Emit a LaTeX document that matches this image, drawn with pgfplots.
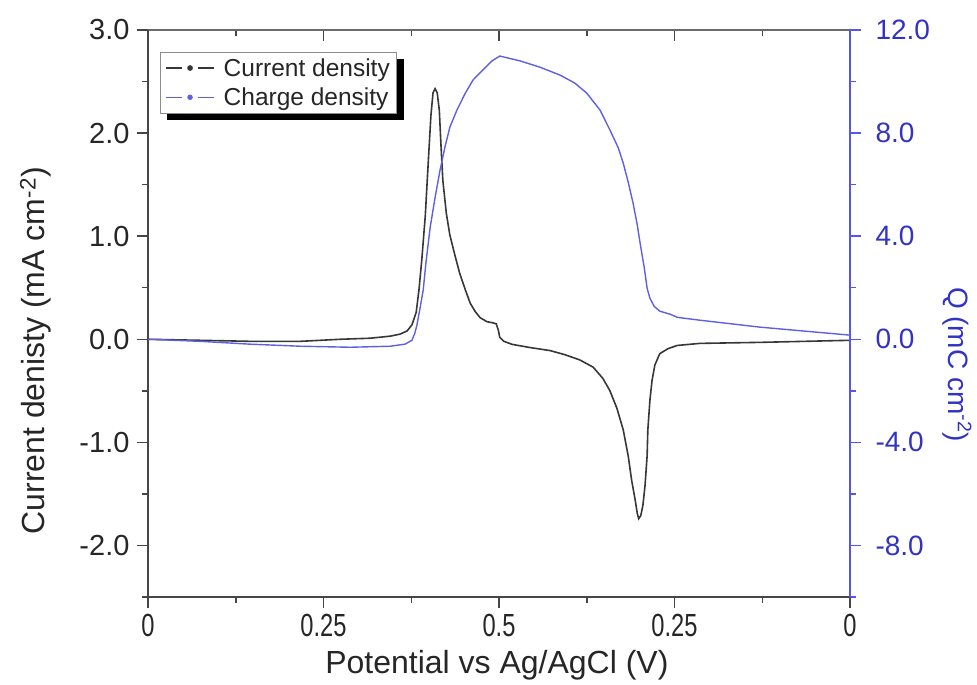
\documentclass[border=0pt]{standalone}
\usepackage{pgfplots}
\pgfplotsset{compat=1.18}
\usepackage{fontspec}
\setmainfont{Liberation Sans}
\pgfdeclarelayer{background}
\pgfsetlayers{background,main}
\definecolor{curblk}{RGB}{55,55,55}
\definecolor{qblue}{RGB}{95,95,225}
\definecolor{axblue}{RGB}{85,85,240}
\definecolor{tickblue}{RGB}{50,50,195}
\definecolor{axgray}{RGB}{70,70,70}

\pgfplotstableread{
u J
0.000 0.00
0.074 -0.01
0.145 -0.02
0.217 -0.02
0.274 0.00
0.316 0.01
0.345 0.03
0.359 0.05
0.369 0.08
0.376 0.14
0.382 0.26
0.386 0.48
0.390 0.77
0.395 1.20
0.399 1.69
0.403 2.17
0.406 2.39
0.409 2.43
0.412 2.39
0.415 2.22
0.417 1.93
0.420 1.54
0.425 1.22
0.430 1.01
0.437 0.82
0.444 0.64
0.452 0.48
0.459 0.35
0.466 0.27
0.473 0.21
0.483 0.17
0.491 0.16
0.496 0.15
0.499 0.09
0.501 0.02
0.507 -0.02
0.519 -0.05
0.544 -0.08
0.573 -0.11
0.594 -0.15
0.615 -0.20
0.634 -0.27
0.648 -0.38
0.658 -0.50
0.668 -0.67
0.677 -0.88
0.684 -1.13
0.689 -1.37
0.694 -1.56
0.697 -1.69
0.699 -1.74
0.702 -1.71
0.705 -1.61
0.708 -1.42
0.711 -1.13
0.712 -0.88
0.715 -0.59
0.718 -0.40
0.722 -0.25
0.729 -0.14
0.741 -0.09
0.754 -0.06
0.786 -0.04
0.872 -0.03
1.000 -0.01
}\currenttable

\pgfplotstableread{
u Q
0.000 0.00
0.074 -0.08
0.145 -0.19
0.217 -0.27
0.288 -0.31
0.345 -0.27
0.366 -0.19
0.376 -0.04
0.380 0.23
0.383 0.54
0.387 1.13
0.392 1.90
0.396 2.99
0.402 4.35
0.409 5.51
0.416 6.56
0.423 7.46
0.430 8.23
0.440 8.89
0.452 9.55
0.463 10.06
0.477 10.45
0.490 10.80
0.501 10.99
0.530 10.80
0.558 10.56
0.587 10.25
0.608 9.94
0.625 9.55
0.644 8.89
0.658 8.12
0.670 7.42
0.677 6.83
0.684 6.10
0.691 5.28
0.697 4.43
0.701 3.73
0.707 2.76
0.711 1.98
0.715 1.59
0.721 1.28
0.729 1.09
0.744 0.97
0.754 0.85
0.786 0.74
0.872 0.47
1.000 0.16
}\chargetable

\begin{document}
\begin{tikzpicture}[x=1pt,y=1pt]
\path[use as bounding box] (0,0) rectangle (977,685);
% top axis with inward ticks
\begin{axis}[
  at={(148pt,88pt)}, anchor=south west,
  scale only axis, width=702pt, height=567pt,
  xmin=0, xmax=1, ymin=-2.5, ymax=3,
  axis x line*=top, axis y line=none,
  tick align=inside,
  xtick={0,0.25,0.5,0.75,1}, xticklabels={},
  minor xtick={0.125,0.375,0.625,0.875},
  major tick length=11pt, minor tick length=6pt,
  axis line style={line width=1.6pt, color=axgray!80},
  tick style={line width=1.5pt, color=axgray},
]
\end{axis}
% main axis
\begin{axis}[
  at={(148pt,88pt)}, anchor=south west,
  scale only axis, width=702pt, height=567pt,
  xmin=0, xmax=1, ymin=-2.5, ymax=3,
  axis x line*=bottom, axis y line*=left,
  tick align=outside,
  xtick={0,0.25,0.5,0.75,1}, xticklabels={0,0.25,0.5,0.25,0},
  minor xtick={0.125,0.375,0.625,0.875},
  ytick={-2,-1,0,1,2,3}, minor ytick={-2.5,-1.5,-0.5,0.5,1.5,2.5},
  major tick length=11pt, minor tick length=6pt,
  axis line style={line width=2.2pt, color=axgray},
  tick style={line width=1.5pt, color=axgray},
  /pgf/number format/assume math mode=true,
  ticklabel style={font=\fontsize{29}{34}\selectfont, text=black!85},
  xticklabel style={yshift=-3pt, xscale=0.74, font=\fontsize{32}{36}\selectfont},
  yticklabel style={/pgf/number format/fixed, /pgf/number format/fixed zerofill, /pgf/number format/precision=1, xshift=-4pt},
  xlabel={Potential vs Ag/AgCl (V)},
  ylabel={Current denisty (mA cm\textsuperscript{-2})},
  every axis x label/.style={at={(axis description cs:0.497,-0.12)}, anchor=center,
    font=\fontsize{32}{36}\selectfont, text=black!85},
  every axis y label/.style={at={(axis description cs:-0.16,0.434)}, rotate=90, anchor=center,
    font=\fontsize{32}{38}\selectfont, text=black!85},
  legend style={name=leg, at={(axis description cs:0,1)}, anchor=north west,
    xshift=12pt, yshift=-22pt, draw=black!45, line width=0.8pt, fill=white,
    font=\fontsize{24.5}{28}\selectfont, inner xsep=5pt, inner ysep=4pt,
    row sep=6pt, column sep=7pt, text=black!85},
  legend cell align=left,
  legend image code/.code={
    \draw[#1, line width=1.3pt] (0pt,0pt) -- (16pt,0pt);
    \draw[#1, line width=1.3pt] (32pt,0pt) -- (48pt,0pt);
    \fill[#1] (24pt,0pt) circle (2pt);
  },
]
\addplot[curblk, line width=1.6pt, mark=none] table[x=u, y=J] {\currenttable};
\addlegendentry{Current density}
\addlegendimage{qblue, line width=1.4pt}
\addlegendentry{Charge density}
\end{axis}
% right axis
\begin{axis}[
  at={(148pt,88pt)}, anchor=south west,
  scale only axis, width=702pt, height=567pt,
  xmin=0, xmax=1, ymin=-10, ymax=12,
  axis x line=none, axis y line*=right,
  tick align=outside,
  ytick={-8,-4,0,4,8,12}, minor ytick={-10,-6,-2,2,6,10},
  major tick length=11pt, minor tick length=6pt,
  axis line style={line width=2.6pt, color=axblue},
  tick style={line width=1.5pt, color=axblue},
  /pgf/number format/assume math mode=true,
  ticklabel style={font=\fontsize{28}{34}\selectfont, text=tickblue},
  yticklabel style={/pgf/number format/fixed, /pgf/number format/fixed zerofill, /pgf/number format/precision=1, xshift=11pt},
  ylabel={Q (mC cm\textsuperscript{-2})},
  every axis y label/.style={at={(axis description cs:1.153,0.41)}, rotate=-90, anchor=center,
    font=\fontsize{28}{34}\selectfont, text=tickblue},
]
\addplot[qblue, line width=1.4pt, mark=none] table[x=u, y=Q] {\chargetable};
\end{axis}
\begin{pgfonlayer}{background}
\fill[black] ([shift={(7pt,-7pt)}]leg.south west) rectangle ([shift={(7pt,-7pt)}]leg.north east);
\end{pgfonlayer}
\end{tikzpicture}
\end{document}
